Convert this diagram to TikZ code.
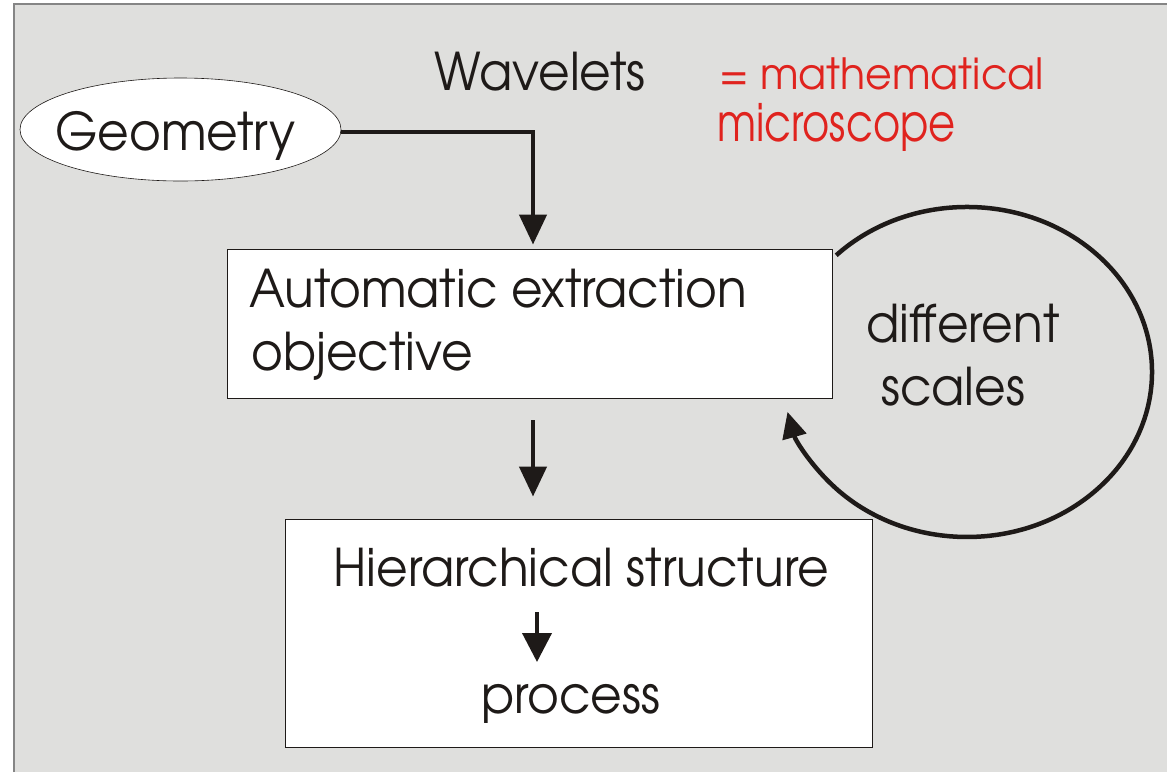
\documentclass[tikz,border=0pt]{standalone}
\usepackage{fontspec}
\setmainfont{texgyreadventor-regular.otf}[FakeStretch=0.935]
\newfontfamily\redsmallfont{texgyreadventor-regular.otf}[FakeStretch=0.955]
\newfontfamily\rednarrowfont{texgyreadventor-regular.otf}[FakeStretch=0.80]
\usetikzlibrary{arrows.meta,shapes.geometric}
\definecolor{bggray}{HTML}{DFDFDD}
\definecolor{framegray}{HTML}{858585}
\definecolor{labelred}{HTML}{E0231E}
\definecolor{inkblack}{HTML}{1E1A18}
\tikzset{
  lbl/.style={inner sep=0pt, anchor=base west, text=inkblack, font=\fontsize{52}{60}\selectfont},
  redlbl/.style={inner sep=0pt, anchor=base west, text=labelred},
  boxnode/.style={draw=inkblack, line width=0.9pt, fill=white, inner sep=0pt, rectangle},
  thickarrow/.style={draw=inkblack, line width=4.5pt, -{Triangle[length=30pt,width=27pt]}},
  thinarrow/.style={draw=inkblack, line width=4pt, -{Triangle[length=29pt,width=29pt]}},
  looparrow/.style={draw=inkblack, line width=4.5pt, -{Triangle[length=26pt,width=24pt]}},
}
\begin{document}
\begin{tikzpicture}[x=1pt,y=-1pt]
\useasboundingbox (0,0) rectangle (1167,772);
% background panel
\fill[bggray] (14,4) rectangle (1167,772);
\draw[framegray, line width=1.2pt] (14,772) -- (14,4) -- (1167,4);

% nodes
\node[ellipse, draw=inkblack, line width=0.6pt, fill=white, inner sep=0pt,
      minimum width=321pt, minimum height=103pt] (geo) at (180.5,129.5) {};
\node[lbl] (geotext) at (55,150) {Geometry};

\node[lbl] (wav) at (434,90) {Wavelets};
\node[redlbl, font=\redsmallfont\fontsize{43}{50}\selectfont] (math) at (719,89.5) {= mathematical};
\node[redlbl, font=\rednarrowfont\fontsize{52}{60}\selectfont] (micro) at (717,141) {microscope};

\node[boxnode, minimum width=605pt, minimum height=149pt] (box1) at (529.5,323.5) {};
\node[lbl] (auto) at (249,307) {Automatic extraction};
\node[lbl] (obj) at (251,370) {objective};

\node[lbl] (diff) at (866,342) {different};
\node[lbl] (scal) at (881,405) {scales};

\node[boxnode, minimum width=587pt, minimum height=228pt] (box2) at (578.5,633) {};
\node[lbl] (hier) at (333.5,586) {Hierarchical structure};
\node[lbl] (proc) at (481,713) {process};

% connectors
\coordinate (geoin) at ([xshift=3.5pt]box1.north);
\draw[thickarrow, shorten >=4pt] ([yshift=-2.5pt]geo.east) -| (geoin);

\coordinate (midtop) at ([xshift=3.5pt]box1.south);
\draw[thickarrow, shorten <=22pt, shorten >=22pt] (midtop) -- (midtop |- box2.north);

\coordinate (hiertop) at (537,612);
\coordinate (proctip) at (537,662);
\draw[thinarrow] (hiertop) -- (proctip);

\coordinate (loopstart) at (836.2,255.3);
\draw[looparrow] (loopstart) arc[start angle=135, end angle=-166, x radius=185pt, y radius=165pt];
\end{tikzpicture}
\end{document}
